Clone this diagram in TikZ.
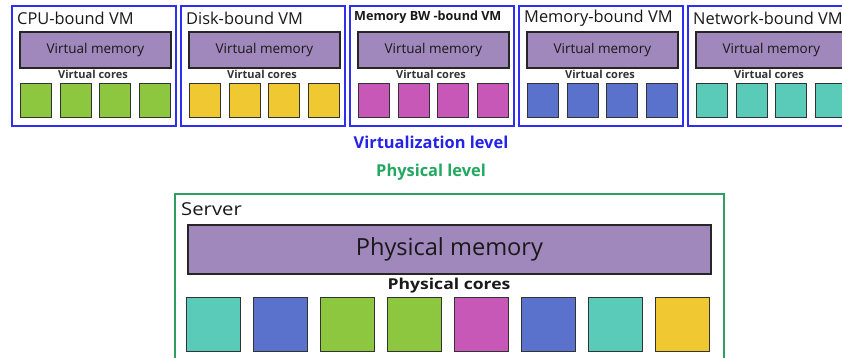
\documentclass[tikz,border=0pt]{standalone}
\usepackage{fontspec}
\setmainfont{Open Sans}
\definecolor{vmblue}{HTML}{2E2EF0}
\definecolor{srvgreen}{HTML}{2E9E62}
\definecolor{memfill}{HTML}{A087BC}
\definecolor{cgreen}{HTML}{8DC63F}
\definecolor{cyellow}{HTML}{F0C832}
\definecolor{cmagenta}{HTML}{C858B8}
\definecolor{cblue}{HTML}{5A72CB}
\definecolor{cteal}{HTML}{5ACBB8}
\definecolor{lvlblue}{HTML}{2424E8}
\definecolor{lvlgreen}{HTML}{22A860}
\begin{document}
\begin{tikzpicture}[x=1pt,y=-1pt,
  vmbox/.style={draw=vmblue,line width=1.8pt,anchor=north west,minimum width=164pt,minimum height=120pt,inner sep=0pt},
  srvbox/.style={draw=srvgreen,line width=1.6pt,anchor=north west,minimum width=549pt,minimum height=190pt,inner sep=0pt},
  membox/.style={draw=black!85,fill=memfill,line width=1.8pt,inner sep=0pt},
  corebox/.style={draw=black!80,line width=1.4pt,anchor=north west,inner sep=0pt},
  vtitle/.style={anchor=west,inner sep=0pt,font=\fontsize{16.4}{17}\selectfont,text=black!90},
  small/.style={inner sep=0pt,font=\fontsize{11}{12}\selectfont\bfseries,text=black!80}]
\useasboundingbox (0,0) rectangle (842,358);
\clip (0,0) rectangle (842,358);
\fill[white] (0,0) rectangle (842,358);
% VMs
\foreach \i/\t/\c in {0/{CPU-bound VM}/cgreen,1/{Disk-bound VM}/cyellow,2/{}/cmagenta,3/{Memory-bound VM}/cblue,4/{Network-bound VM}/cteal}{
  \pgfmathsetmacro{\xo}{11+169*\i}
  \node[vmbox] (vm\i) at (\xo,5) {};
  \node[vtitle] (vt\i) at (\xo+6,18) {\t};
  \node[membox,anchor=north west,minimum width=151pt,minimum height=36pt,font=\fontsize{13.5}{14}\selectfont,text=black!90] (vmem\i) at (\xo+8,31) {Virtual memory};
  \node[small] (vc\i) at (\xo+82,74) {Virtual cores};
  \foreach \k/\dx in {0/9,1/48.5,2/88,3/127.5}{
    \node[corebox,fill=\c,minimum width=31pt,minimum height=34pt] (vcore\i\k) at (\xo+\dx,83) {};
  }
}
\node[anchor=west,inner sep=0pt,font=\fontsize{12.6}{13}\selectfont\bfseries,text=black!90] (vt2b) at (354,17) {Memory BW -bound VM};
% levels
\node[inner sep=0pt,font=\fontsize{16.4}{17}\selectfont\bfseries,text=lvlblue] (virt) at (431,142) {Virtualization level};
\node[inner sep=0pt,font=\fontsize{16.4}{17}\selectfont\bfseries,text=lvlgreen] (phys) at (431,172.5) {Physical level};
% server
\node[srvbox] (srv) at (174,193) {};
\node[anchor=west,inner sep=0pt,font=\fontsize{17.8}{18}\selectfont,text=black!90] (srvt) at (181,209) {\scalebox{1.14}[1]{Server}};
\node[membox,anchor=north west,minimum width=523pt,minimum height=49pt,font=\fontsize{23.6}{25}\selectfont,text=black!90] (pmem) at (187,224) {Physical memory};
\node[inner sep=0pt,font=\fontsize{15}{16}\selectfont\bfseries,text=black!90] (pc) at (449,286) {\scalebox{1.17}[1]{Physical cores}};
\foreach \k/\c in {0/cteal,1/cblue,2/cgreen,3/cgreen,4/cmagenta,5/cblue,6/cteal,7/cyellow}{
  \node[corebox,fill=\c,minimum width=54pt,minimum height=54pt] (pcore\k) at (186+67*\k,297) {};
}
\end{tikzpicture}
\end{document}
